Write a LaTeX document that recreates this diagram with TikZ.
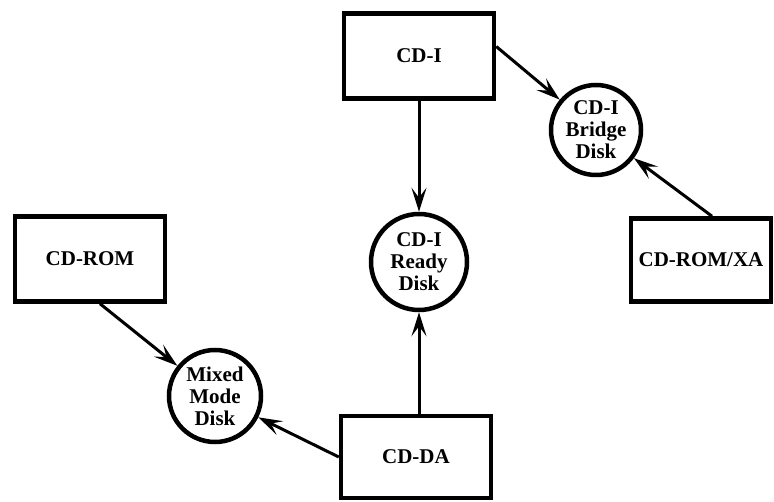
\documentclass[tikz,border=0pt]{standalone}
\usepackage{fontspec}
\setmainfont{Liberation Serif}
\usetikzlibrary{positioning, arrows.meta}

\begin{document}
\begin{tikzpicture}[
    x=1pt, y=-1pt,
    font=\fontsize{21}{22}\selectfont\bfseries,
    box/.style={
        draw,
        line width=4.5pt,
        align=center,
        inner sep=0pt,
        minimum width=150pt,
        minimum height=85pt
    },
    disk/.style={
        draw,
        circle,
        line width=4.5pt,
        align=center,
        inner sep=0pt,
        minimum size=90pt
    },
    arrow/.style={
        -{Stealth[length=24pt, width=15pt, inset=10pt]},
        line width=3pt
    }
]
\useasboundingbox (0,0) rectangle (774,502);

\node[box] (cdi) at (419,56) {CD-I};
\node[box] (cdrom) at (90,259) {CD-ROM};
\node[box, minimum width=140pt, minimum height=83pt] (cdromxa) at (701,260) {CD-ROM/XA};
\node[box, minimum height=82pt] (cdda) at (416,457) {CD-DA};

\node[disk] (bridge) at (596,130) {CD-I\\Bridge\\Disk};
\node[disk, minimum size=96pt] (ready) at (419,262) {CD-I\\Ready\\Disk};
\node[disk, minimum size=92pt] (mixed) at (215,396) {Mixed\\Mode\\Disk};

\draw[arrow] (cdi.7) -- (bridge);
\draw[arrow] (cdi) -- (ready);
\draw[arrow] ([xshift=11pt]cdromxa.north) -- (bridge);
\draw[arrow] ([xshift=10pt]cdrom.south) -- (mixed);
\draw[arrow] (cdda.west) -- (mixed);
\draw[arrow] (cdda.north -| ready) -- (ready);

\end{tikzpicture}
\end{document}
